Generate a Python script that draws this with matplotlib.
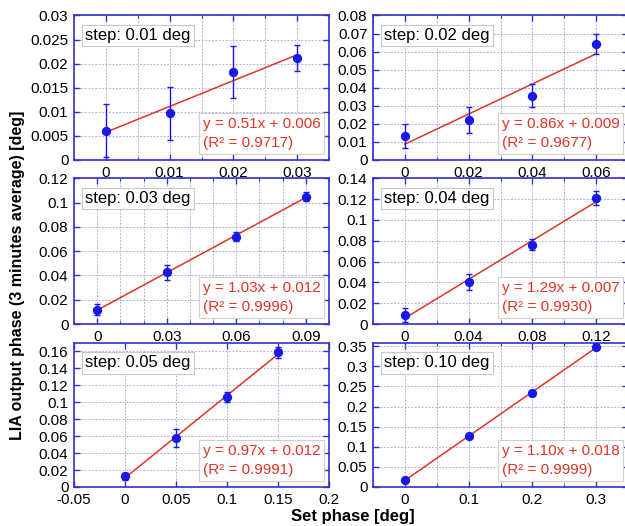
import numpy as np
import matplotlib
matplotlib.use("Agg")
import matplotlib.pyplot as plt
from matplotlib.ticker import MultipleLocator, FuncFormatter

plt.rcParams['font.family'] = ['Liberation Sans', 'DejaVu Sans']

# set phase values for each panel (deg)
steps = ["0.01", "0.02", "0.03", "0.04", "0.05", "0.10"]
x_set = [
    [0, 0.01, 0.02, 0.03],
    [0, 0.02, 0.04, 0.06],
    [0, 0.03, 0.06, 0.09],
    [0, 0.04, 0.08, 0.12],
    [0, 0.05, 0.10, 0.15],
    [0, 0.10, 0.20, 0.30],
]
# LIA output phase, 3 minutes average (deg)
y_lia = [
    [0.0061, 0.0097, 0.0183, 0.0211],
    [0.0132, 0.0221, 0.0355, 0.0643],
    [0.0116, 0.0426, 0.0720, 0.1049],
    [0.0087, 0.0403, 0.0762, 0.1210],
    [0.0126, 0.0578, 0.1058, 0.1588],
    [0.0170, 0.1270, 0.2333, 0.3483],
]
y_err = [
    [0.0055, 0.0055, 0.0054, 0.0027],
    [0.0068, 0.0074, 0.0063, 0.0055],
    [0.0045, 0.0064, 0.0039, 0.0039],
    [0.0065, 0.0080, 0.0052, 0.0066],
    [0.0043, 0.0110, 0.0060, 0.0060],
    [0.0030, 0.0050, 0.0060, 0.0030],
]
# fit results as printed on the chart
slope = [0.51, 0.86, 1.03, 1.29, 0.97, 1.10]
intercept = [0.006, 0.009, 0.012, 0.007, 0.012, 0.018]
r2 = ["0.9717", "0.9677", "0.9996", "0.9930", "0.9991", "0.9999"]

xlims = [(-0.005, 0.035), (-0.01, 0.07), (-0.01, 0.1),
         (-0.02, 0.14), (-0.05, 0.2), (-0.05, 0.35)]
ylims = [(0, 0.03), (0, 0.08), (0, 0.12), (0, 0.14), (0, 0.17), (0, 0.358)]
x_major = [0.01, 0.02, 0.03, 0.04, 0.05, 0.1]
x_minor = [0.005, 0.01, 0.01, 0.02, 0.05, 0.05]
y_major = [0.005, 0.01, 0.02, 0.02, 0.02, 0.05]

W, H = 625, 526
fig = plt.figure(figsize=(W / 100, H / 100), dpi=100)

lefts = [74, 373]
rows = [(15.5, 160), (178.3, 324), (343, 487)]
aw = 255

spine_c = "#3030d0"
grid_c = "#9898ea"
pt_c = "#1818e8"
fit_c = "#e03525"
gls = (0, (2.5, 2))

fmt = FuncFormatter(lambda v, p: "%g" % round(v, 6))

for i in range(6):
    r, c = divmod(i, 2)
    top, bot = rows[r]
    ax = fig.add_axes([lefts[c] / W, 1 - bot / H, aw / W, (bot - top) / H])

    xs = np.array(x_set[i])
    ys = np.array(y_lia[i])
    # least squares line through the measured points
    k, b = np.polyfit(xs, ys, 1)
    xf = np.array([xs[0], xs[-1]])
    ax.plot(xf, k * xf + b, color=fit_c, lw=1.1, zorder=3)
    ax.errorbar(xs, ys, yerr=y_err[i], fmt="o", color=pt_c, ms=5.7,
                elinewidth=1, capsize=2, capthick=1, zorder=4)

    ax.set_xlim(*xlims[i])
    ax.set_ylim(*ylims[i])
    ax.xaxis.set_major_locator(MultipleLocator(x_major[i]))
    ax.xaxis.set_minor_locator(MultipleLocator(x_minor[i]))
    ax.yaxis.set_major_locator(MultipleLocator(y_major[i]))
    ax.xaxis.set_major_formatter(fmt)
    ax.yaxis.set_major_formatter(fmt)

    ax.grid(which="major", axis="y", color=grid_c, lw=0.55, ls=gls)
    ax.grid(which="both", axis="x", color=grid_c, lw=0.55, ls=gls)
    ax.set_axisbelow(True)

    for s in ax.spines.values():
        s.set_color(spine_c)
        s.set_linewidth(1.2)
    ax.tick_params(which="both", direction="in", color=spine_c,
                   top=True, right=True, labelsize=11, pad=4)
    ax.tick_params(which="major", length=4, width=1)
    ax.tick_params(which="minor", length=2, width=0.8)

    ax.text(0.045, 0.862, "step: %s deg" % steps[i], transform=ax.transAxes,
            fontsize=12, ha="left", va="center", zorder=6,
            bbox=dict(boxstyle="square,pad=0.2", fc="white", ec="#c8c8c8", lw=0.8))
    ax.text(0.505, 0.07, "y = %.2fx + %.3f\n(R² = %s)" % (slope[i], intercept[i], r2[i]),
            transform=ax.transAxes, fontsize=11, color=fit_c, ha="left", va="bottom",
            linespacing=1.45, zorder=6,
            bbox=dict(boxstyle="square,pad=0.25", fc="white", ec="#d0d0d0", lw=0.8))

fig.text(0.028, 0.477, "LIA output phase (3 minutes average) [deg]", rotation=90,
         ha="center", va="center", fontsize=11.5, fontweight="bold")
fig.text(0.565, 0.019, "Set phase [deg]", ha="center", va="center",
         fontsize=12, fontweight="bold")

fig.savefig("out.png", dpi=100)
